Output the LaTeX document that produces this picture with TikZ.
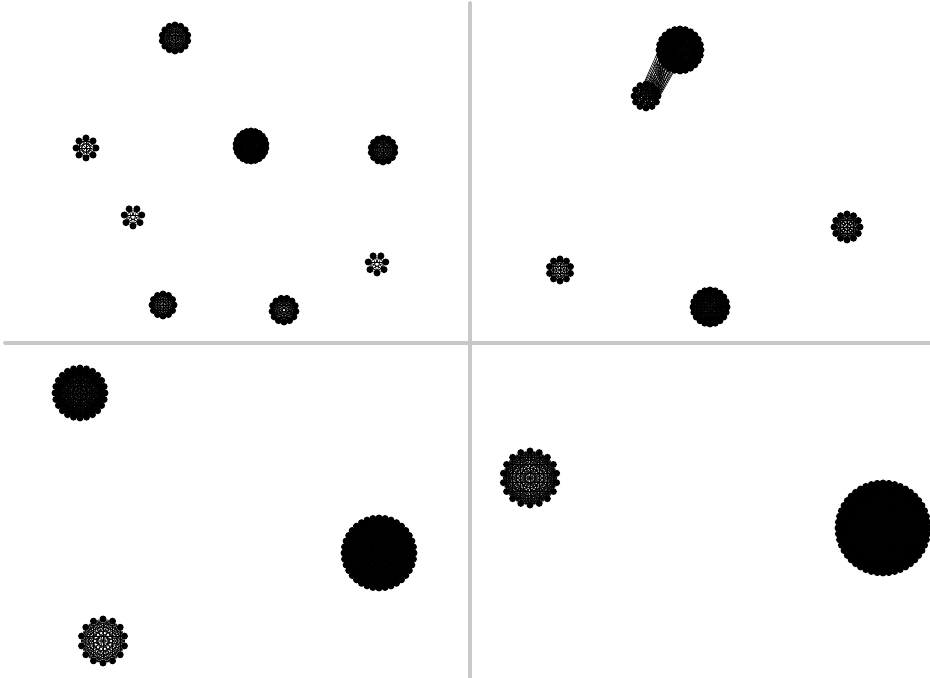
\documentclass[tikz,border=0pt]{standalone}
\usetikzlibrary{calc}
\definecolor{divgray}{RGB}{200,200,200}
% clique: name, x, y, number of nodes, ring radius
\newcommand{\clique}[5]{%
  \foreach \i in {1,...,#4}
    \path (#2,#3) ++(90+360/#4*\i:#5) node[vtx] (#1-\i) {};
  \foreach \i in {2,...,#4}{
    \pgfmathtruncatemacro\m{\i-1}
    \foreach \j in {1,...,\m} \draw[edge] (#1-\i)--(#1-\j);
  }%
}
\begin{document}
\begin{tikzpicture}[x=0.02cm, y=-0.02cm, line join=round, line cap=round,
  vtx/.style={circle, fill=black, inner sep=0pt, minimum size=0.14cm},
  edge/.style={line width=0.35pt, black},
  divider/.style={divgray, line width=2.2pt}]
\useasboundingbox (0,0) rectangle (930,678);
\coordinate (vtop) at (470,3);
\coordinate (vbot) at (470,678);
\coordinate (hleft) at (5,343);
\coordinate (hright) at (930,343);
\draw[divider] (vtop)--(vbot);
\draw[divider] (hleft)--(hright);
% top left
\clique{qa}{175}{38}{14}{13}
\clique{qb}{86}{148}{8}{10}
\clique{qc}{251}{146}{22}{15}
\clique{qd}{383}{150}{14}{12}
\clique{qe}{133}{217}{7}{9}
\clique{qf}{377}{264}{7}{9}
\clique{qg}{163}{305}{12}{11}
\clique{qh}{284}{310}{13}{12}
% top right
\clique{ra}{680}{50}{24}{21}
\clique{rb}{646}{96}{12}{12}
\foreach \i in {1,2,10,11,12} \foreach \j in {9,10,11,12,13,14,15} \draw[edge] (rb-\i)--(ra-\j);
\clique{rc}{560}{270}{10}{11}
\clique{rd}{847}{227}{12}{13}
\clique{re}{710}{307}{20}{17}
% bottom left
\clique{sa}{80}{393}{24}{25}
\clique{sb}{379}{553}{36}{35}
\clique{sc}{103}{641}{14}{22}
% bottom right
\clique{ta}{530}{478}{18}{27}
\clique{tb}{883}{528}{48}{45}
\end{tikzpicture}
\end{document}
